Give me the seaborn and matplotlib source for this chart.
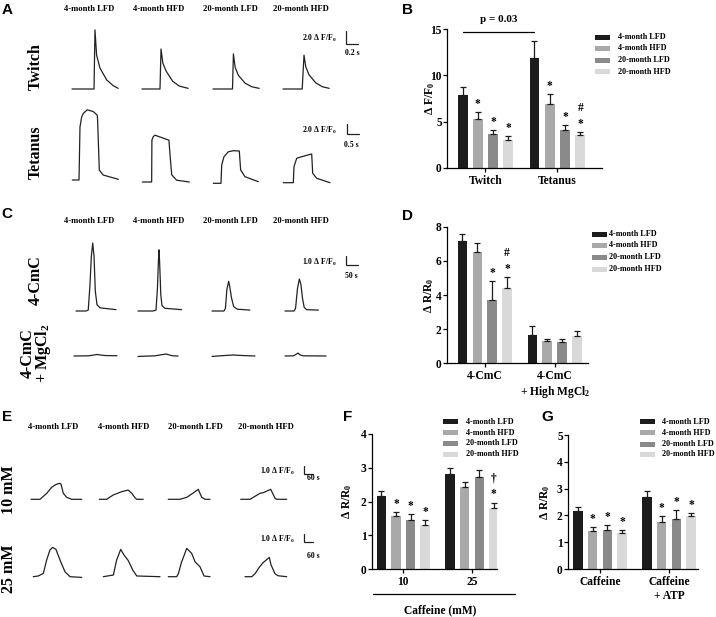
import matplotlib
matplotlib.use("Agg")
import matplotlib.pyplot as plt
import seaborn as sns
import pandas as pd
from matplotlib.patches import Rectangle
from matplotlib.lines import Line2D

# ---------------- data ----------------
DIETS = ["4-month LFD", "4-month HFD", "20-month LFD", "20-month HFD"]
COLORS = ["#1c1c1c", "#a9a9a9", "#8a8a8a", "#d9d9d9"]

# Panel B  (ΔF/F0)
B_groups = ["Twitch", "Tetanus"]
B_twitch_mean = [7.84, 5.32, 3.70, 3.06]
B_twitch_sem = [0.90, 0.68, 0.35, 0.36]
B_tetanus_mean = [11.87, 6.90, 4.10, 3.60]
B_tetanus_sem = [1.80, 1.05, 0.54, 0.28]
B_marks = [(0, 1, "*"), (0, 2, "*"), (0, 3, "*"), (1, 1, "*"), (1, 2, "*"), (1, 3, "#\n*")]

# Panel D  (ΔR/R0)
D_groups = ["4-CmC", "4-CmC\n+ High MgCl$_2$"]
D_cmc_mean = [7.19, 6.52, 3.72, 4.39]
D_cmc_sem = [0.40, 0.53, 1.11, 0.65]
D_mg_mean = [1.66, 1.28, 1.24, 1.58]
D_mg_sem = [0.51, 0.16, 0.20, 0.31]
D_marks = [(0, 2, "*"), (0, 3, "#\n*")]

# Panel F  (ΔR/R0, caffeine mM)
F_groups = ["10", "25"]
F_10_mean = [2.17, 1.56, 1.46, 1.31]
F_10_sem = [0.13, 0.12, 0.17, 0.13]
F_25_mean = [2.82, 2.44, 2.74, 1.80]
F_25_sem = [0.17, 0.13, 0.20, 0.17]
F_marks = [(0, 1, "*"), (0, 2, "*"), (0, 3, "*"), (1, 3, "\u2020\n*")]

# Panel G  (ΔR/R0)
G_groups = ["Caffeine", "Caffeine\n+ ATP"]
G_caf_mean = [2.18, 1.40, 1.46, 1.34]
G_caf_sem = [0.15, 0.16, 0.18, 0.12]
G_atp_mean = [2.67, 1.77, 1.86, 1.99]
G_atp_sem = [0.25, 0.21, 0.34, 0.09]
G_marks = [(0, 1, "*"), (0, 2, "*"), (0, 3, "*"), (1, 1, "*"), (1, 2, "*"), (1, 3, "*")]

# Panel A traces: time (s), ΔF/F0
twitch_4LFD_t = [0, 0.367, 0.383, 0.41, 0.467, 0.578, 0.688, 0.77]
twitch_4LFD_v = [0, 0, 9.1, 5.2, 3.2, 1.4, 0.5, 0.1]
twitch_4HFD_t = [0, 0.30, 0.317, 0.347, 0.40, 0.51, 0.62, 0.77]
twitch_4HFD_v = [0, 0, 6.15, 4.0, 2.8, 1.2, 0.45, 0.1]
twitch_20LFD_t = [0, 0.325, 0.34, 0.37, 0.423, 0.535, 0.645, 0.77]
twitch_20LFD_v = [0, 0, 5.4, 3.3, 2.1, 0.9, 0.35, 0.1]
twitch_20HFD_t = [0, 0.32, 0.35, 0.38, 0.433, 0.545, 0.655, 0.77]
twitch_20HFD_v = [0, 0, 5.2, 3.4, 2.2, 0.95, 0.35, 0.1]

tet_4LFD_t = [0, 0.28, 0.32, 0.39, 0.46, 0.625, 0.875, 1.04, 1.055, 1.125, 1.29, 1.92]
tet_4LFD_v = [0, 0, 11.8, 14.0, 14.8, 15.6, 15.2, 14.4, 13.3, 2.2, 1.1, 0.15]
tet_4HFD_t = [0, 0.39, 0.40, 0.46, 0.53, 1.11, 1.146, 1.225, 1.43, 1.96]
tet_4HFD_v = [0, 0, 9.3, 10.1, 10.4, 9.3, 6.7, 1.6, 0.4, 0]
tet_20LFD_t = [0, 0.32, 0.35, 0.445, 0.625, 0.833, 1.083, 1.14, 1.32, 1.875]
tet_20LFD_v = [0, 0, 4.07, 5.9, 7.0, 7.24, 7.18, 2.96, 1.47, 0.36]
tet_20HFD_t = [0, 0.417, 0.446, 0.558, 0.767, 1.183, 1.225, 1.39, 1.946]
tet_20HFD_v = [0, 0, 3.56, 5.42, 5.78, 6.38, 2.09, 0.98, 0]

# Panel C traces: time (s), ΔF/F0
cmc_4LFD_t = [0, 41.7, 51, 58, 64, 69.6, 75, 80.5, 87.5, 100, 166.7]
cmc_4LFD_v = [0, 0, 0.1, 2.8, 6.1, 7.55, 6.1, 2.2, 0.7, 0.35, 0.15]
cmc_4HFD_t = [0, 62, 75, 81, 85, 87.5, 90, 95, 100, 112, 182]
cmc_4HFD_v = [0, 0, 0.1, 2.5, 5.5, 6.8, 5.5, 1.8, 0.6, 0.3, 0.15]
cmc_20LFD_t = [0, 50, 56, 62, 69.4, 74, 81, 90, 105, 158]
cmc_20LFD_v = [0, 0, 0.3, 2.4, 3.3, 2.7, 1.5, 0.5, 0.2, 0.1]
cmc_20HFD_t = [0, 38, 44, 52, 59.7, 66, 73, 80, 90, 139]
cmc_20HFD_v = [0, 0, 0.3, 2.5, 3.55, 3.0, 1.4, 0.4, 0.15, 0.1]

mg_4LFD_t = [0, 60, 85, 96, 108, 130, 179]
mg_4LFD_v = [0, 0.02, 0.12, 0.17, 0.12, 0.05, 0.03]
mg_4HFD_t = [0, 70, 100, 117, 130, 145, 167]
mg_4HFD_v = [-0.05, 0.02, 0.15, 0.22, 0.12, 0.02, 0]
mg_20LFD_t = [0, 50, 87, 130, 179]
mg_20LFD_v = [-0.05, 0.05, 0.11, 0.05, 0]
mg_20HFD_t = [0, 35, 47, 54, 61, 75, 171]
mg_20HFD_v = [0, 0.02, 0.2, 0.33, 0.15, 0.02, 0]

# Panel E traces: time (s), ΔF/F0
caf10_4LFD_t = [0, 60, 105, 138, 160, 189, 200, 215, 238, 271, 338]
caf10_4LFD_v = [0, 0, 0.75, 1.5, 1.79, 2.0, 1.91, 0.75, 0.25, 0, 0]
caf10_4HFD_t = [0, 49, 93, 149, 193, 216, 238, 249, 293]
caf10_4HFD_v = [0, 0, 0.54, 0.95, 1.16, 0.75, 0.2, 0, 0]
caf10_20LFD_t = [0, 78, 123, 163, 200, 211, 223, 245, 278]
caf10_20LFD_v = [0, 0, 0.25, 0.75, 1.25, 0.75, 0.25, 0, 0]
caf10_20HFD_t = [0, 62, 129, 151, 200, 229, 240, 307]
caf10_20HFD_v = [0, 0, 0.75, 0.83, 1.25, 0.12, 0, 0]
caf25_4LFD_t = [0, 33, 67, 89, 111, 129, 151, 178, 211, 245, 323]
caf25_4LFD_v = [0, 0.09, 0.41, 2.09, 3.34, 3.66, 3.41, 2.09, 0.62, 0, -0.09]
caf25_4HFD_t = [0, 67, 89, 116, 138, 167, 196, 223, 378]
caf25_4HFD_v = [0, 0.21, 2.09, 3.41, 2.71, 2.0, 0.84, 0.09, 0]
caf25_20LFD_t = [0, 56, 67, 87, 123, 156, 178, 211, 238, 278]
caf25_20LFD_v = [0, 0, 0.37, 1.75, 3.54, 2.91, 1.87, 1.25, 0.09, 0]
caf25_20HFD_t = [0, 45, 67, 93, 120, 162, 173, 200, 220, 278]
caf25_20HFD_v = [0, 0, 0.37, 1.12, 1.75, 2.41, 1.5, 0.37, 0.12, 0]

# ---------------- style ----------------
W, H = 716, 617
sns.set_style("ticks")
plt.rcParams.update({
    "font.family": ["Liberation Serif", "DejaVu Serif"],
    "font.weight": "bold",
    "axes.labelweight": "bold",
    "mathtext.fontset": "custom",
    "mathtext.rm": "Liberation Serif:bold",
    "mathtext.it": "Liberation Serif:bold",
    "mathtext.bf": "Liberation Serif:bold",
    "axes.linewidth": 0.9,
    "axes.edgecolor": "black",
    "xtick.color": "black", "ytick.color": "black",
    "xtick.major.width": 0.9, "ytick.major.width": 0.9,
    "xtick.major.size": 3, "ytick.major.size": 3,
    "xtick.major.pad": 2, "ytick.major.pad": 0.8,
    "text.color": "black", "axes.labelcolor": "black",
})

fig = plt.figure(figsize=(W / 100, H / 100), dpi=100)
TRACE_C = "#222222"


def fx(px):
    return px / W


def fy(py):
    return 1 - py / H


def rect(x0, y0, x1, y1):
    return [x0 / W, 1 - y1 / H, (x1 - x0) / W, (y1 - y0) / H]


def ftext(x, y, s, **kw):
    fig.text(fx(x), fy(y), s, **kw)


# ---------------- traces ----------------
def trace(x0, base, t, v, px_s, px_u):
    wpx = t[-1] * px_s
    hpx = 90
    ax = fig.add_axes(rect(x0, base - hpx, x0 + wpx, base))
    sns.lineplot(x=t, y=v, ax=ax, color=TRACE_C, linewidth=0.9,
                 estimator=None, sort=False)
    for ln in ax.lines:
        ln.set_clip_on(False)
        ln.set_solid_joinstyle("round")
    ax.set_xlim(0, t[-1])
    ax.set_ylim(0, hpx / px_u)
    ax.axis("off")


def scalebar(cx, cy, tlen, vlen, px_s, px_u, vlab, tlab, vlab_xy, tlab_xy):
    wpx, hpx = tlen * px_s, vlen * px_u
    ax = fig.add_axes(rect(cx, cy - hpx, cx + wpx, cy))
    ax.plot([0, 0, tlen], [vlen, 0, 0], color=TRACE_C, lw=0.9,
            clip_on=False, solid_joinstyle="miter")
    ax.set_xlim(0, tlen)
    ax.set_ylim(0, vlen)
    ax.axis("off")
    ftext(*vlab_xy, vlab, ha="right", va="center", fontsize=5.6)
    ftext(*tlab_xy, tlab, ha="left", va="center", fontsize=5.6)


# Panel A
twitch_rows = [(twitch_4LFD_t, twitch_4LFD_v), (twitch_4HFD_t, twitch_4HFD_v),
               (twitch_20LFD_t, twitch_20LFD_v), (twitch_20HFD_t, twitch_20HFD_v)]
for (t, v), x0 in zip(twitch_rows, [72, 142, 213, 283]):
    trace(x0, 89, t, v, 60, 6.5)
tet_rows = [(tet_4LFD_t, tet_4LFD_v), (tet_4HFD_t, tet_4HFD_v),
            (tet_20LFD_t, tet_20LFD_v), (tet_20HFD_t, tet_20HFD_v)]
for (t, v), x0, b in zip(tet_rows, [72.3, 142.3, 213.3, 283.3], [180, 182, 183.3, 182.7]):
    trace(x0, b, t, v, 24, 4.5)
scalebar(346, 44, 0.2, 2.0, 60, 6.5, "2.0 Δ F/F$_0$", "0.2 s", (337, 38.5), (345, 53))
scalebar(346.5, 133.5, 0.5, 2.0, 24, 4.5, "2.0 Δ F/F$_0$", "0.5 s", (337, 130), (344, 145))

# Panel C
cmc_rows = [(cmc_4LFD_t, cmc_4LFD_v), (cmc_4HFD_t, cmc_4HFD_v),
            (cmc_20LFD_t, cmc_20LFD_v), (cmc_20HFD_t, cmc_20HFD_v)]
for (t, v), x0 in zip(cmc_rows, [76, 138, 212, 285]):
    trace(x0, 311, t, v, 0.24, 9)
mg_rows = [(mg_4LFD_t, mg_4LFD_v), (mg_4HFD_t, mg_4HFD_v),
           (mg_20LFD_t, mg_20LFD_v), (mg_20HFD_t, mg_20HFD_v)]
for (t, v), x0 in zip(mg_rows, [74, 138, 212, 285]):
    trace(x0, 356, t, v, 0.24, 9)
scalebar(346, 265, 50, 1.0, 0.24, 9, "1.0 Δ F/F$_0$", "50 s", (337, 262), (345, 275.5))

# Panel E
c10_rows = [(caf10_4LFD_t, caf10_4LFD_v), (caf10_4HFD_t, caf10_4HFD_v),
            (caf10_20LFD_t, caf10_20LFD_v), (caf10_20HFD_t, caf10_20HFD_v)]
for (t, v), x0 in zip(c10_rows, [31, 99.3, 168.3, 240.7]):
    trace(x0, 499.3, t, v, 0.15, 8)
c25_rows = [(caf25_4LFD_t, caf25_4LFD_v), (caf25_4HFD_t, caf25_4HFD_v),
            (caf25_20LFD_t, caf25_20LFD_v), (caf25_20HFD_t, caf25_20HFD_v)]
for (t, v), x0 in zip(c25_rows, [33.3, 103.3, 168.3, 245]):
    trace(x0, 576.7, t, v, 0.15, 8)
scalebar(304, 474, 60, 1.0, 0.15, 8, "1.0 Δ F/F$_0$", "60 s", (295, 471.5), (307, 478))
scalebar(304, 542, 60, 1.0, 0.15, 8, "1.0 Δ F/F$_0$", "60 s", (295, 539.5), (307, 556))

# headers and row labels
for y, xs in [(9, [89, 159, 230, 301]), (221, [89, 159, 230, 301]), (427, [53, 124, 195, 266])]:
    for x, d in zip(xs, DIETS):
        ftext(x, y, d, ha="center", va="center", fontsize=6.2)

for x, y, s in [(36, 67, "Twitch"), (36, 152, "Tetanus"), (36, 280, "4-CmC"),
                (36.5, 353, "4-CmC\n+ MgCl$_2$"), (9, 490, "10 mM"), (9, 569, "25 mM")]:
    ftext(x, y, s, ha="center", va="center", rotation=90, fontsize=11.5,
          multialignment="center", linespacing=0.85)

for x, y, s in [(7, 9.5, "A"), (408, 10, "B"), (7, 214, "C"), (408, 216, "D"),
                (7, 417, "E"), (348, 417, "F"), (547, 417, "G")]:
    ftext(x, y, s, ha="center", va="center", fontsize=11, family="Liberation Sans",
          weight="bold")


# ---------------- bar panels ----------------
def bar_panel(box, groups, means, sems, ylim, yticks, xlim, ylabel, ylab_px, marks):
    x0, y0, x1, y1 = box
    rows = []
    for g, ml in zip(groups, means):
        for d, m in zip(DIETS, ml):
            rows.append({"group": g, "diet": d, "value": m})
    df = pd.DataFrame(rows)
    ax = fig.add_axes(rect(x0, y0, x1, y1))
    sns.barplot(data=df, x="group", y="value", hue="diet", order=groups,
                hue_order=DIETS, palette=COLORS, width=0.85, gap=0.35,
                errorbar=None, saturation=1, legend=False, ax=ax)
    centers = {}
    tops = {}
    bar_conts = list(ax.containers)
    for hi, cont in enumerate(bar_conts):
        for gi, p in enumerate(cont.patches):
            p.set_edgecolor("none")
            xc = p.get_x() + p.get_width() / 2
            m = p.get_height()
            s = sems[gi][hi]
            centers[(gi, hi)] = xc
            tops[(gi, hi)] = m + s
            ax.errorbar([xc], [m], yerr=[[0], [s]], fmt="none", ecolor="#1c1c1c",
                        elinewidth=0.9, capsize=2.4, capthick=0.9)
    for gi, hi, sym in marks:
        ax.annotate(sym, (centers[(gi, hi)], tops[(gi, hi)]), xytext=(0, 1.5),
                    textcoords="offset points", ha="center", va="bottom",
                    fontsize=8.3, linespacing=1.45, annotation_clip=False)
    sns.despine(ax=ax)
    ax.set_xlim(*xlim)
    ax.set_ylim(*ylim)
    ax.set_yticks(yticks)
    ax.set_xlabel("")
    ax.set_ylabel(ylabel, fontsize=8.3)
    ax.yaxis.set_label_coords((ylab_px - x0) / (x1 - x0), 0.5)
    ax.tick_params(labelsize=8.3)
    return ax, centers


def legend(xp, xt, ys):
    for d, c, y in zip(DIETS, COLORS, ys):
        fig.add_artist(Rectangle((fx(xp), fy(y + 2.5)), 15 / W, 5 / H,
                                 transform=fig.transFigure, color=c, lw=0))
        ftext(xt, y, d, ha="left", va="center", fontsize=5.9)


axB, cB = bar_panel((447, 29, 602, 168), B_groups,
                    [B_twitch_mean, B_tetanus_mean], [B_twitch_sem, B_tetanus_sem],
                    (0, 15), [0, 5, 10, 15], (-0.535, 1.62), "Δ F/F$_0$", 437, B_marks)
xa, xb = cB[(0, 0)], cB[(1, 0)]
axB.plot([xa, xb], [14.67, 14.67], color="black", lw=0.9, clip_on=False)
axB.annotate("p = 0.03", ((xa + xb) / 2, 14.67), xytext=(0, 6), textcoords="offset points",
             ha="center", va="bottom", fontsize=8, annotation_clip=False)
legend(595, 618, [37, 48.3, 60.3, 71.7])

bar_panel((447, 227, 588, 363), D_groups, [D_cmc_mean, D_mg_mean],
          [D_cmc_sem, D_mg_sem], (0, 8), [0, 2, 4, 6, 8], (-0.54, 1.475),
          "Δ R/R$_0$", 436, D_marks)
legend(592, 609, [234.3, 245.3, 257.3, 269])

bar_panel((372, 434, 497, 569), F_groups, [F_10_mean, F_25_mean],
          [F_10_sem, F_25_sem], (0, 4), [0, 1, 2, 3, 4], (-0.455, 1.364),
          "Δ R/R$_0$", 354, F_marks)
legend(443, 466, [421.7, 432.7, 443.3, 454.3])
fig.add_artist(Line2D([fx(373), fx(515)], [fy(594), fy(594)], transform=fig.transFigure,
                      color="black", lw=0.9))
ftext(440, 610, "Caffeine (mM)", ha="center", va="center", fontsize=8.3)

bar_panel((568, 435, 698, 569), G_groups, [G_caf_mean, G_atp_mean],
          [G_caf_sem, G_atp_sem], (0, 5), [0, 1, 2, 3, 4, 5], (-0.464, 1.42),
          "Δ R/R$_0$", 552, G_marks)
legend(640, 662, [421.7, 432.7, 444, 454.3])

fig.savefig("out.png", dpi=100)
